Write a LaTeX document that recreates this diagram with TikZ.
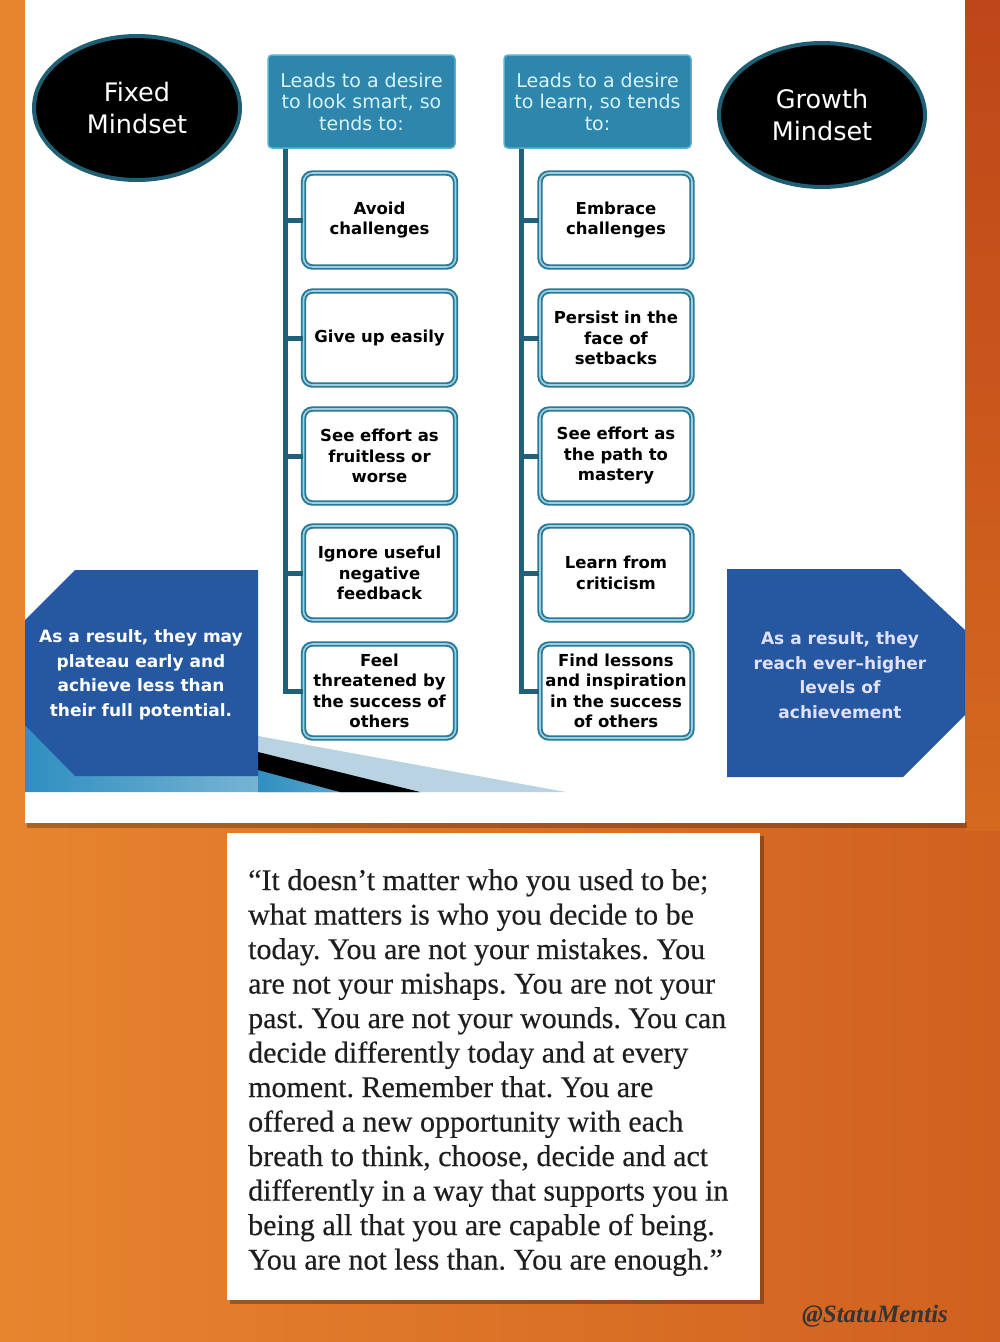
\documentclass[tikz,border=0pt]{standalone}
\usepackage{fontspec}
\setmainfont{DejaVu Sans}
\newfontfamily\quotefont[FakeBold=0.35]{Liberation Serif}
\newfontfamily\wmfont{Liberation Serif}
\usetikzlibrary{shapes.geometric}
\definecolor{bgL}{HTML}{E7852F}
\definecolor{bgR}{HTML}{D0601F}
\definecolor{stripT}{HTML}{BE4619}
\definecolor{stripB}{HTML}{D5691F}
\definecolor{ellteal}{HTML}{1E5F73}
\definecolor{hdrblue}{HTML}{2F86AD}
\definecolor{hdredge}{HTML}{5AB0CF}
\definecolor{hdrtext}{HTML}{D6F4FB}
\definecolor{boxteal}{HTML}{2A7894}
\definecolor{boxlight}{HTML}{9AD0E2}
\definecolor{trunkc}{HTML}{21607A}
\definecolor{pentblue}{HTML}{2657A1}
\definecolor{bandL}{HTML}{2F8FC0}
\definecolor{bandR}{HTML}{A9CDE0}
\definecolor{wedge}{HTML}{B9D3E2}
\definecolor{quotec}{HTML}{1E1E1E}
\definecolor{wmc}{HTML}{353535}
\tikzset{
  mind/.style={ellipse, fill=black, draw=ellteal, line width=4pt, minimum width=206pt, minimum height=144pt, inner sep=0pt, text=white, align=center, font=\fontsize{25.5}{32}\selectfont},
  hdr/.style={rectangle, rounded corners=4pt, fill=hdrblue, draw=hdredge, line width=1.5pt, minimum width=187pt, minimum height=93pt, inner sep=0pt, text=hdrtext, align=center, font=\fontsize{19}{21.5}\selectfont},
  itembox/.style={rectangle, rounded corners=9pt, fill=white, draw=boxteal, double=boxlight, double distance=1.6pt, line width=1.9pt, minimum width=152pt, minimum height=94pt, inner sep=1pt, align=center, font=\bfseries\fontsize{16.5}{20.5}\selectfont},
  trunk/.style={draw=trunkc, line width=5pt},
  penttext/.style={align=center, inner sep=0pt, font=\bfseries\fontsize{17}{24.5}\selectfont},
}
\begin{document}
\frenchspacing
\begin{tikzpicture}[x=1pt,y=-1pt]
\useasboundingbox (0,0) rectangle (1000,1342);
% background
\shade[left color=bgL, right color=bgR] (0,0) rectangle (1000,1342);
\shade[top color=stripT, bottom color=stripB] (965,0) rectangle (1000,830);
% panel
\fill[black, opacity=0.25] (27,822) rectangle (967,828);
\fill[white] (25,0) rectangle (965,823);
% floor band
\shade[left color=bandL, right color=bandR] (25,690) -- (258,736) -- (420,792) -- (25,792) -- cycle;
\fill[wedge] (258,736) -- (566,792) -- (258,792) -- cycle;
\shade[left color=bandL, right color=bandR!70!bandL] (258,765) -- (420,792) -- (258,792) -- cycle;
\fill[black] (258,752) -- (420,792) -- (340,792) -- (258,770) -- cycle;
% pentagons
\fill[pentblue] (25,620) -- (75,570) -- (258,570) -- (258,776) -- (75,776) -- (25,725) -- cycle;
\fill[pentblue] (727,569) -- (900,569) -- (965,630) -- (965,715) -- (903,777) -- (727,777) -- cycle;
\node[penttext, text=white] (resfixed) at (141,675) {As a result, they may\\plateau early and\\achieve less than\\their full potential.};
\node[penttext, text=white!88!blue] (resgrowth) at (840,675) {As a result, they\\reach ever–higher\\levels of\\achievement};
% ellipses
\node[mind] (fixed) at (137,108) {Fixed\\Mindset};
\node[mind] (growth) at (822,115) {Growth\\Mindset};
% headers
\node[hdr] (hl) at (361.5,101.5) {Leads to a desire\\to look smart, so\\tends to:};
\node[hdr] (hr) at (597.5,101.5) {Leads to a desire\\to learn, so tends\\to:};
% left items
\node[itembox] (a1) at (379.5,220) {Avoid\\challenges};
\node[itembox] (a2) at (379.5,338) {Give up easily};
\node[itembox] (a3) at (379.5,456) {See effort as\\fruitless or\\worse};
\node[itembox] (a4) at (379.5,573) {Ignore useful\\negative\\feedback};
\node[itembox] (a5) at (379.5,691) {Feel\\threatened by\\the success of\\others};
% right items
\node[itembox] (b1) at (616,220) {Embrace\\challenges};
\node[itembox] (b2) at (616,338) {Persist in the\\face of\\setbacks};
\node[itembox] (b3) at (616,456) {See effort as\\the path to\\mastery};
\node[itembox] (b4) at (616,573) {Learn from\\criticism};
\node[itembox] (b5) at (616,691) {Find lessons\\and inspiration\\in the success\\of others};
% trunks
\coordinate (lt) at ([xshift=18pt]hl.south west);
\coordinate (rt) at ([xshift=18pt]hr.south west);
\draw[trunk] (lt) |- (a5.west);
\foreach \n in {a1,a2,a3,a4} \draw[trunk] (lt |- \n.west) -- (\n.west);
\draw[trunk] (rt) |- (b5.west);
\foreach \n in {b1,b2,b3,b4} \draw[trunk] (rt |- \n.west) -- (\n.west);
% quote box
\fill[black, opacity=0.3] (230,836) rectangle (764,1304);
\fill[white] (227,833) rectangle (760,1300);
\node[anchor=north west, inner sep=0pt, align=left, text=quotec, font=\quotefont\fontsize{30}{34.5}\selectfont] (quote) at (248,869) {“It doesn’t matter who you used to be;\\what matters is who you decide to be\\today. You are not your mistakes. You\\are not your mishaps. You are not your\\past. You are not your wounds. You can\\decide differently today and at every\\moment. Remember that. You are\\offered a new opportunity with each\\breath to think, choose, decide and act\\differently in a way that supports you in\\being all that you are capable of being.\\You are not less than. You are enough.”};
% watermark
\node[text=wmc, inner sep=0pt, font=\wmfont\bfseries\itshape\fontsize{25}{28}\selectfont] (wm) at (875,1316) {@StatuMentis};
\end{tikzpicture}
\end{document}
